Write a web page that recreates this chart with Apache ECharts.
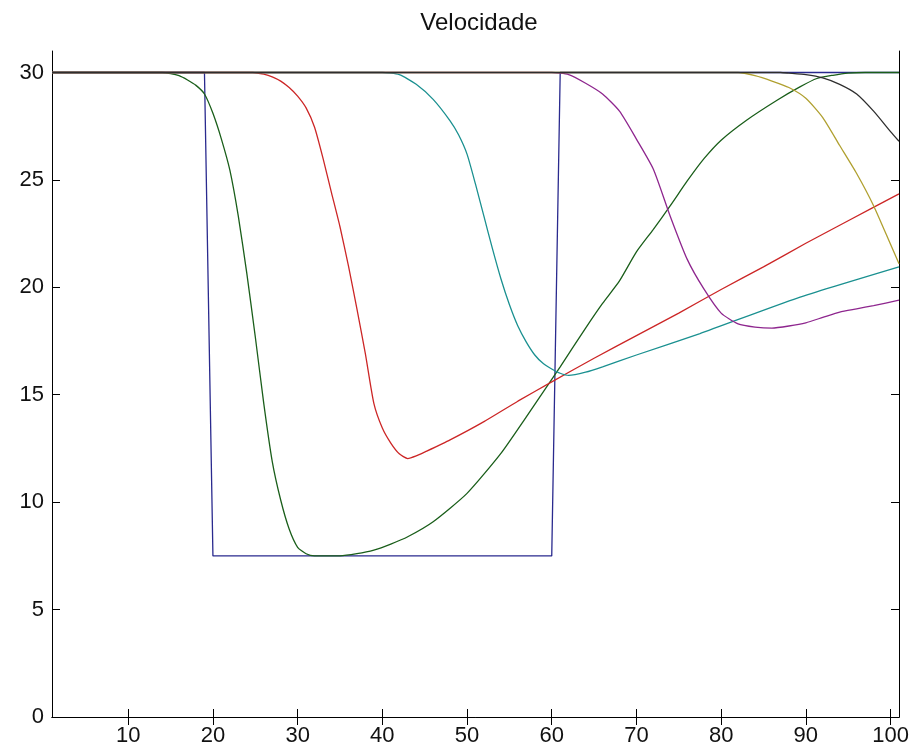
<!DOCTYPE html>
<html>
<head>
<meta charset="utf-8">
<script src="https://cdn.jsdelivr.net/npm/echarts@6/dist/echarts.min.js"></script>
<style>
  html, body { margin: 0; padding: 0; background: #ffffff; }
  #chart { width: 912px; height: 753px; }
</style>
</head>
<body>
<div id="chart"></div>
<script>
// Velocity profiles along the road (position 1..101), one curve per time step
const title = 'Velocidade';
const xTicks = [10, 20, 30, 40, 50, 60, 70, 80, 90, 100];
const yTicks = [0, 5, 10, 15, 20, 25, 30];

const blueX = [1, 19, 20, 60, 61, 101];
const blueY = [30, 30, 7.5, 7.5, 30, 30];

const greenX = [1, 14, 15, 16, 17, 18, 19, 20, 21, 22, 23, 24, 25, 26, 27, 28, 29, 30, 31, 32, 35, 37, 39, 41, 43, 46, 50, 54, 57, 59.4, 61, 64, 66, 68, 70, 72, 74, 76, 78, 80, 83, 86.6, 89.3, 91.3, 93.2, 95, 97, 101];
const greenY = [30, 30, 29.95, 29.85, 29.65, 29.4, 29.0, 28.1, 26.9, 25.45, 23.3, 20.65, 17.7, 14.6, 11.9, 10.1, 8.75, 7.9, 7.6, 7.5, 7.5, 7.6, 7.77, 8.05, 8.39, 9.09, 10.41, 12.27, 13.97, 15.37, 16.3, 18.1, 19.25, 20.3, 21.65, 22.7, 23.8, 24.95, 26.0, 26.85, 27.78, 28.71, 29.33, 29.72, 29.87, 29.97, 30, 30];

const redX = [1, 24.7, 26, 27, 28, 29, 30, 31, 32, 33, 34, 35, 36, 37, 38, 39, 40, 41, 42, 43, 44, 45, 48, 52, 56, 60, 65, 70, 75, 80, 85, 90, 95, 101];
const redY = [30, 30, 29.92, 29.8, 29.6, 29.3, 28.9, 28.35, 27.45, 26.0, 24.4, 22.82, 21.0, 19.0, 16.9, 14.6, 13.45, 12.75, 12.25, 12.03, 12.15, 12.33, 12.9, 13.75, 14.7, 15.6, 16.7, 17.75, 18.8, 19.9, 20.95, 22.05, 23.1, 24.35];

const cyanX = [1, 40, 42, 44, 46, 48, 49, 50, 51, 52, 53, 54, 55, 56, 57, 58, 59, 60, 61, 62, 64, 66, 70, 77.5, 89, 101];
const cyanY = [30, 30, 29.9, 29.45, 28.75, 27.75, 27.1, 26.2, 24.8, 23.3, 21.8, 20.4, 19.2, 18.2, 17.45, 16.85, 16.45, 16.2, 16.0, 15.9, 16.05, 16.3, 16.85, 17.85, 19.5, 20.95];

const magentaX = [1, 60, 62, 64, 66, 68, 70, 72, 74, 76, 78, 80, 82, 84, 86, 88, 90, 92, 94, 96, 98, 101];
const magentaY = [30, 30, 29.9, 29.5, 29.0, 28.2, 26.9, 25.5, 23.3, 21.3, 19.9, 18.8, 18.3, 18.15, 18.1, 18.2, 18.35, 18.6, 18.85, 19.0, 19.15, 19.4];

const yellowX = [1, 82, 84, 86, 88, 90, 92, 94, 96, 98, 100, 101];
const yellowY = [30, 30, 29.85, 29.6, 29.3, 28.8, 27.9, 26.6, 25.3, 23.8, 22.0, 21.1];

const blackX = [1, 87, 88, 90, 92, 94, 96, 98, 100, 101];
const blackY = [30, 30, 29.97, 29.9, 29.75, 29.45, 29.0, 28.2, 27.25, 26.8];

const seriesDefs = [
  { name: 't0', xs: blueX, ys: blueY, color: '#2a2a8e', smooth: false },
  { name: 't1', xs: greenX, ys: greenY, color: '#1a5e1a', smooth: true },
  { name: 't2', xs: redX, ys: redY, color: '#cc2626', smooth: true },
  { name: 't3', xs: cyanX, ys: cyanY, color: '#1a9090', smooth: true },
  { name: 't4', xs: magentaX, ys: magentaY, color: '#8e268e', smooth: true },
  { name: 't5', xs: yellowX, ys: yellowY, color: '#b0a030', smooth: true },
  { name: 't6', xs: blackX, ys: blackY, color: '#2e2e2e', smooth: true }
];

const pair = (xs, ys) => xs.map((x, i) => [x, ys[i]]);

const font = 'Liberation Sans, Arial, Helvetica, sans-serif';
const tickStyle = { show: true, inside: true, length: 8, lineStyle: { color: '#000', width: 1 } };
const lineStyle = { show: true, lineStyle: { color: '#000', width: 1 } };

const chart = echarts.init(document.getElementById('chart'), null, { renderer: 'canvas' });
chart.setOption({
  animation: false,
  backgroundColor: '#ffffff',
  title: {
    text: title,
    left: 474,
    textAlign: 'center',
    top: 6,
    textStyle: { fontFamily: font, fontSize: 24, fontWeight: 'normal', color: '#111' }
  },
  grid: { left: 52, right: 13, top: 51, bottom: 36, show: false },
  xAxis: [
    {
      type: 'value', min: 1, max: 101, position: 'bottom',
      axisLine: lineStyle,
      axisTick: Object.assign({ customValues: xTicks }, tickStyle),
      axisLabel: { customValues: xTicks, margin: 8, fontFamily: font, fontSize: 22, color: '#111' },
      splitLine: { show: false }
    },
    {
      type: 'value', min: 1, max: 101, position: 'top',
      axisLine: lineStyle,
      axisTick: Object.assign({ customValues: xTicks }, tickStyle),
      axisLabel: { show: false },
      splitLine: { show: false }
    }
  ],
  yAxis: [
    {
      type: 'value', min: 0, max: 31, position: 'left',
      axisLine: lineStyle,
      axisTick: Object.assign({ customValues: yTicks }, tickStyle),
      axisLabel: { customValues: yTicks, margin: 8, fontFamily: font, fontSize: 22, color: '#111' },
      splitLine: { show: false }
    },
    {
      type: 'value', min: 0, max: 31, position: 'right',
      axisLine: lineStyle,
      axisTick: Object.assign({ customValues: yTicks }, tickStyle),
      axisLabel: { show: false },
      splitLine: { show: false }
    }
  ],
  series: seriesDefs.map(s => ({
    name: s.name,
    type: 'line',
    xAxisIndex: 0,
    yAxisIndex: 0,
    data: pair(s.xs, s.ys),
    showSymbol: false,
    symbol: 'none',
    smooth: s.smooth ? 0.2 : false,
    clip: true,
    lineStyle: { color: s.color, width: 1.3 },
    itemStyle: { color: s.color }
  }))
});
</script>
</body>
</html>
